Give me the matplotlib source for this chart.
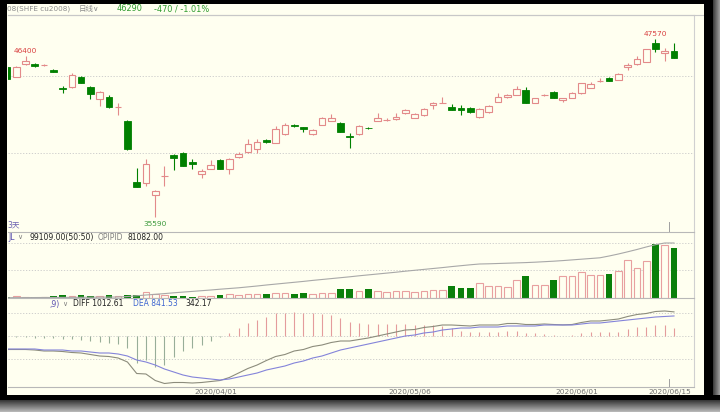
import numpy as np
import matplotlib.pyplot as plt

plt.rcParams['font.family'] = ['DejaVu Sans', 'Noto Sans CJK SC']

# daily candles, cu2008 (28 Feb .. 15 Jun 2020)
opens = [45690, 45010, 45890, 45890, 45800, 45480, 44270, 44340, 45010, 44340,
         43530, 43670, 42960, 42050, 37950, 37880, 37070, 38330, 39760, 39900,
         39290, 38490, 38820, 39430, 38820, 39630, 39970, 40170, 40770, 40570,
         41180, 41780, 41650, 41180, 41780, 42050, 41920, 41040, 41180, 41600,
         42050, 42100, 42190, 42590, 42250, 42460, 43130, 43240, 42990, 42930,
         42930, 42320, 42660, 43330, 43670, 43800, 44140, 43260, 43780, 44000,
         43470, 43600, 43940, 44270, 44720, 44950, 44810, 45690, 45890, 46020,
         47300, 46630, 46760]
highs = [45750, 45720, 46400, 45950, 45900, 45520, 44400, 45280, 45080, 44380,
         44100, 43800, 43260, 42100, 38890, 39500, 37400, 39020, 39800, 39950,
         39500, 38820, 39430, 39480, 39530, 39970, 40840, 40840, 40820, 41720,
         41920, 41850, 41680, 41480, 42300, 42520, 41980, 41240, 41750, 41650,
         42590, 42220, 42590, 42830, 42560, 42900, 43300, 43670, 43200, 43100,
         42960, 42900, 43100, 43940, 43850, 44400, 44340, 43630, 43850, 44040,
         43630, 43970, 44640, 44680, 44950, 44990, 45250, 45960, 46430, 46930,
         47570, 46960, 47300]
lows = [44850, 44980, 45850, 45700, 45750, 45320, 43940, 44300, 44580, 43530,
        43060, 42950, 42460, 40120, 37580, 37680, 35590, 37680, 38750, 38990,
        38820, 38220, 38790, 38790, 38490, 39590, 39930, 39900, 40600, 40540,
        41140, 41640, 41310, 41140, 41750, 42020, 41280, 40230, 41140, 41500,
        42020, 42020, 42150, 42550, 42220, 42420, 42860, 43230, 42760, 42460,
        42620, 42250, 42620, 43300, 43630, 43770, 43230, 43230, 43760, 43570,
        43330, 43570, 43900, 44240, 44700, 44710, 44780, 45480, 45850, 45990,
        46700, 46090, 46260]
closes = [44880, 45690, 46090, 45750, 45830, 45350, 44210, 45150, 44610, 43870,
          44000, 42990, 43000, 40170, 37610, 39160, 37340, 38370, 39560, 39020,
          39160, 38690, 39090, 38820, 39500, 39830, 40500, 40640, 40640, 41510,
          41780, 41720, 41510, 41450, 42250, 42250, 41310, 40980, 41720, 41560,
          42250, 42140, 42320, 42790, 42520, 42860, 43260, 43280, 42790, 42790,
          42660, 42860, 43060, 43670, 43800, 44210, 43260, 43600, 43820, 43600,
          43600, 43940, 44610, 44540, 44760, 44740, 45210, 45820, 46220, 46900,
          46900, 46760, 46290]

volume = [2000, 4000, 2000, 2000, 2000, 4000, 6000, 4000, 6000, 4000,
          4000, 6000, 4000, 6000, 6000, 12000, 8000, 6000, 4000, 4000,
          2000, 4000, 4000, 6000, 8000, 6000, 8000, 8000, 8000, 10000,
          10000, 8000, 10000, 8000, 10000, 10000, 17800, 17800, 13900, 17800,
          13900, 11900, 13900, 13900, 11900, 13900, 15900, 15900, 23800, 19800,
          19800, 29700, 23800, 23800, 21800, 35700, 43600, 25800, 25800, 35700,
          43600, 43600, 51500, 45600, 45600, 47600, 53500, 75300, 59500, 73300,
          107000, 105000, 99109]
open_int = [440, 520, 590, 660, 740, 810, 880, 960, 1030, 1180,
            1250, 1330, 1470, 2210, 3240, 4420, 5450, 6490, 7670, 8700,
            9730, 10760, 11790, 12970, 14000, 15040, 16360, 17690, 19160, 20490,
            21820, 23140, 24470, 25950, 27270, 28600, 29920, 31250, 32730, 34050,
            35380, 36710, 38030, 39510, 40830, 42160, 43490, 44810, 46290, 47620,
            48940, 50120, 50420, 50860, 51300, 51740, 52190, 52780, 53520, 54250,
            55140, 56170, 57200, 58230, 59260, 61910, 64860, 68100, 71500, 75190,
            78580, 81080, 81082]

dif = [-567, -567, -567, -588, -630, -630, -651, -693, -714, -777,
       -840, -861, -924, -1092, -1575, -1596, -1869, -1995, -1953, -1953,
       -1974, -1953, -1911, -1869, -1743, -1554, -1365, -1218, -1029, -861,
       -777, -630, -567, -441, -378, -273, -210, -210, -147, -84,
       0, 84, 168, 252, 273, 357, 399, 462, 462, 441,
       420, 462, 462, 462, 525, 525, 483, 483, 504, 483,
       468, 483, 567, 630, 630, 672, 714, 819, 903, 945,
       1029, 1051, 1012.61]
dea = [-546, -546, -546, -546, -588, -588, -588, -630, -630, -672,
       -714, -714, -756, -840, -1008, -1092, -1218, -1386, -1512, -1638,
       -1722, -1764, -1806, -1848, -1806, -1722, -1638, -1554, -1428, -1344,
       -1260, -1134, -1050, -924, -840, -714, -588, -504, -420, -336,
       -252, -168, -84, 0, 42, 126, 168, 252, 294, 336,
       336, 378, 378, 378, 420, 420, 420, 420, 462, 462,
       462, 462, 504, 546, 546, 588, 630, 672, 714, 756,
       798, 820, 841.53]
macd = [-42, -42, -42, -84, -84, -84, -126, -126, -168, -210,
        -252, -294, -336, -504, -1134, -1008, -1302, -1218, -882, -630,
        -504, -378, -210, -42, 126, 336, 546, 672, 798, 966,
        966, 1008, 966, 966, 924, 882, 756, 588, 546, 504,
        504, 504, 504, 504, 462, 462, 462, 420, 336, 210,
        168, 168, 168, 168, 210, 210, 126, 126, 84, 42,
        12, 42, 126, 168, 168, 168, 168, 294, 378, 378,
        462, 462, 342.17]

date_pos = [23, 44, 62, 72]
date_labels = ['2020/04/01', '2020/05/06', '2020/06/01', '2020/06/15']

bg = '#FFFFF0'
red = '#E38A8A'
green = '#008000'
gridc = '#C8C8C8'
sepc = '#B8B8B8'

W, H = 720, 412
fig = plt.figure(figsize=(7.2, 4.12), dpi=100)
fig.patch.set_facecolor(bg)


def box(y_top, y_bot):
    return [8 / W, 1 - y_bot / H, 686 / W, (y_bot - y_top) / H]


ax_k = fig.add_axes(box(15, 232))
ax_v = fig.add_axes(box(232, 298))
ax_m = fig.add_axes(box(298, 387))

n = len(closes)
x = np.arange(n)
o = np.array(opens, float)
c = np.array(closes, float)
hi = np.array(highs, float)
lo = np.array(lows, float)
up = c >= o
cols = np.where(up, red, green)

for ax in (ax_k, ax_v, ax_m):
    ax.set_facecolor(bg)
    ax.set_xlim(0.108, 74.16)
    for s in ax.spines.values():
        s.set_visible(False)
    ax.spines['top'].set_visible(True)
    ax.spines['top'].set_color(sepc)
    ax.spines['top'].set_linewidth(0.8)
    ax.spines['right'].set_visible(True)
    ax.spines['right'].set_color('#D0D0D0')
    ax.spines['right'].set_linewidth(0.8)
    ax.set_yticks([])
    ax.tick_params(axis='x', length=0, labelbottom=False)

# candles
ax_k.set_ylim(34581, 49185)
ax_k.vlines(x, lo, hi, colors=cols, lw=0.8, zorder=2)
bh = np.maximum(np.abs(c - o), 35)
bb = np.minimum(o, c)
ax_k.bar(x[up], bh[up], bottom=bb[up], width=0.72, facecolor=bg,
         edgecolor=red, lw=0.8, zorder=3)
ax_k.bar(x[~up], bh[~up], bottom=bb[~up], width=0.72, facecolor=green,
         edgecolor=green, lw=0.6, zorder=3)
for lvl in (39900, 45080):
    ax_k.axhline(lvl, color=gridc, lw=0.6, ls=(0, (1.5, 2)), zorder=1)
ax_k.axvline(71.5, ymin=0, ymax=10 / 217, color='#A0A0A0', lw=0.7)

imax = int(np.argmax(hi))
imin = int(np.argmin(lo))
ax_k.annotate(f'{highs[2]}', (2, highs[2]), xytext=(0, 1.5), textcoords='offset points',
              ha='center', va='bottom', fontsize=5.3, color='#D94040')
ax_k.annotate(f'{highs[imax]}', (imax, highs[imax]), xytext=(0, 1.5), textcoords='offset points',
              ha='center', va='bottom', fontsize=5.3, color='#D94040')
ax_k.annotate(f'{lows[imin]}', (imin, lows[imin]), xytext=(0, -3), textcoords='offset points',
              ha='center', va='top', fontsize=5.3, color='#3C9A3C')

# volume + open interest
ax_v.set_ylim(0, 66 * 1982)
vol = np.array(volume, float)
ax_v.bar(x[up], vol[up], width=0.72, facecolor=bg, edgecolor='#E8A0A0', lw=0.8, zorder=3)
ax_v.bar(x[~up], vol[~up], width=0.72, color='#0A7F0A', zorder=3)
for lvl in (55500, 109000):
    ax_v.axhline(lvl, color=gridc, lw=0.6, ls=(0, (1.5, 2)), zorder=1)
ax_oi = ax_v.twinx()
ax_oi.set_ylim(0, 66 * 1474)
ax_oi.plot(x, open_int, color='#A8A8A8', lw=0.8)
ax_oi.axis('off')

# MACD
ax_m.set_ylim(-2142, 1596)
mc = np.array(macd, float)
ax_m.vlines(x, 0, mc, colors=np.where(mc >= 0, '#E49C9C', '#98AE98'), lw=0.8)
ax_m.plot(x, dif, color='#8C8C7C', lw=0.8)
ax_m.plot(x, dea, color='#8484DA', lw=0.8)
for lvl in (-966, 0, 966):
    ax_m.axhline(lvl, color=gridc, lw=0.6, ls=(0, (1.5, 2)), zorder=0)
ax_m.spines['bottom'].set_visible(True)
ax_m.spines['bottom'].set_color(sepc)
ax_m.spines['bottom'].set_linewidth(0.8)
ax_m.set_xticks([p - 0.5 for p in date_pos])
ax_m.set_xticklabels(date_labels)
ax_m.tick_params(axis='x', length=0, pad=1.2, labelbottom=True,
                 labelsize=5.3, labelcolor='#707070')
ax_m.axvline(71.5, ymin=0, ymax=8 / 89, color='#A0A0A0', lw=0.7)

# overlay: header texts and the window frame
ov = fig.add_axes([0, 0, 1, 1], zorder=20)
ov.set_xlim(0, W)
ov.set_ylim(H, 0)
ov.axis('off')

ov.plot([8, 704], [15, 15], color='#C8C8C8', lw=0.8)
ov.text(7, 8.5, '08(SHFE cu2008)', fontsize=5.2, color='#8C8C8C', va='center')
ov.text(79, 8.5, '日线∨', fontsize=5.4, color='#8C8C8C', va='center')
ov.text(117, 8.5, '46290', fontsize=5.9, color='#2E9B2E', va='center')
ov.text(154, 8.5, '-470 / -1.01%', fontsize=5.9, color='#2E9B2E', va='center')
ov.text(7, 225, '3天', fontsize=5.5, color='#6A60B0', va='center')

ov.text(8, 237, 'JL', fontsize=5.5, color='#5A50B0', va='center')
ov.text(17, 237, '∨', fontsize=5, color='#808080', va='center')
ov.text(30, 237, '99109.00(50:50)', fontsize=5.5, color='#202020', va='center')
ov.text(98, 237, 'OPIPID', fontsize=5.5, color='#808080', va='center')
ov.text(128, 237, '81082.00', fontsize=5.5, color='#202020', va='center')

ov.text(49, 304, ',9)', fontsize=5.5, color='#5A50B0', va='center')
ov.text(62, 304, '∨', fontsize=5, color='#808080', va='center')
ov.text(73, 304, 'DIFF 1012.61', fontsize=5.5, color='#202020', va='center')
ov.text(133, 304, 'DEA 841.53', fontsize=5.5, color='#3C64D0', va='center')
ov.text(185, 304, '342.17', fontsize=5.5, color='#202020', va='center')

frame = np.zeros((H, W, 4))
frame[:4, :, 3] = 1
frame[:395, :7, 3] = 1
frame[:400, 704:713, 3] = 1
for j in range(713, W):
    g = 0.25 + 0.06 * (j - 713)
    frame[:400, j, :3] = g
    frame[:400, j, 3] = 1
frame[395:400, :, :3] = 0
frame[395:400, :, 3] = 1
for r in range(400, H):
    g = 0.22 + 0.045 * (r - 400)
    frame[r, :, :3] = g
    frame[r, :, 3] = 1
ov.imshow(frame, extent=(0, W, H, 0), interpolation='nearest', aspect='auto', zorder=5)

fig.savefig('out.png', dpi=100, facecolor=bg)
